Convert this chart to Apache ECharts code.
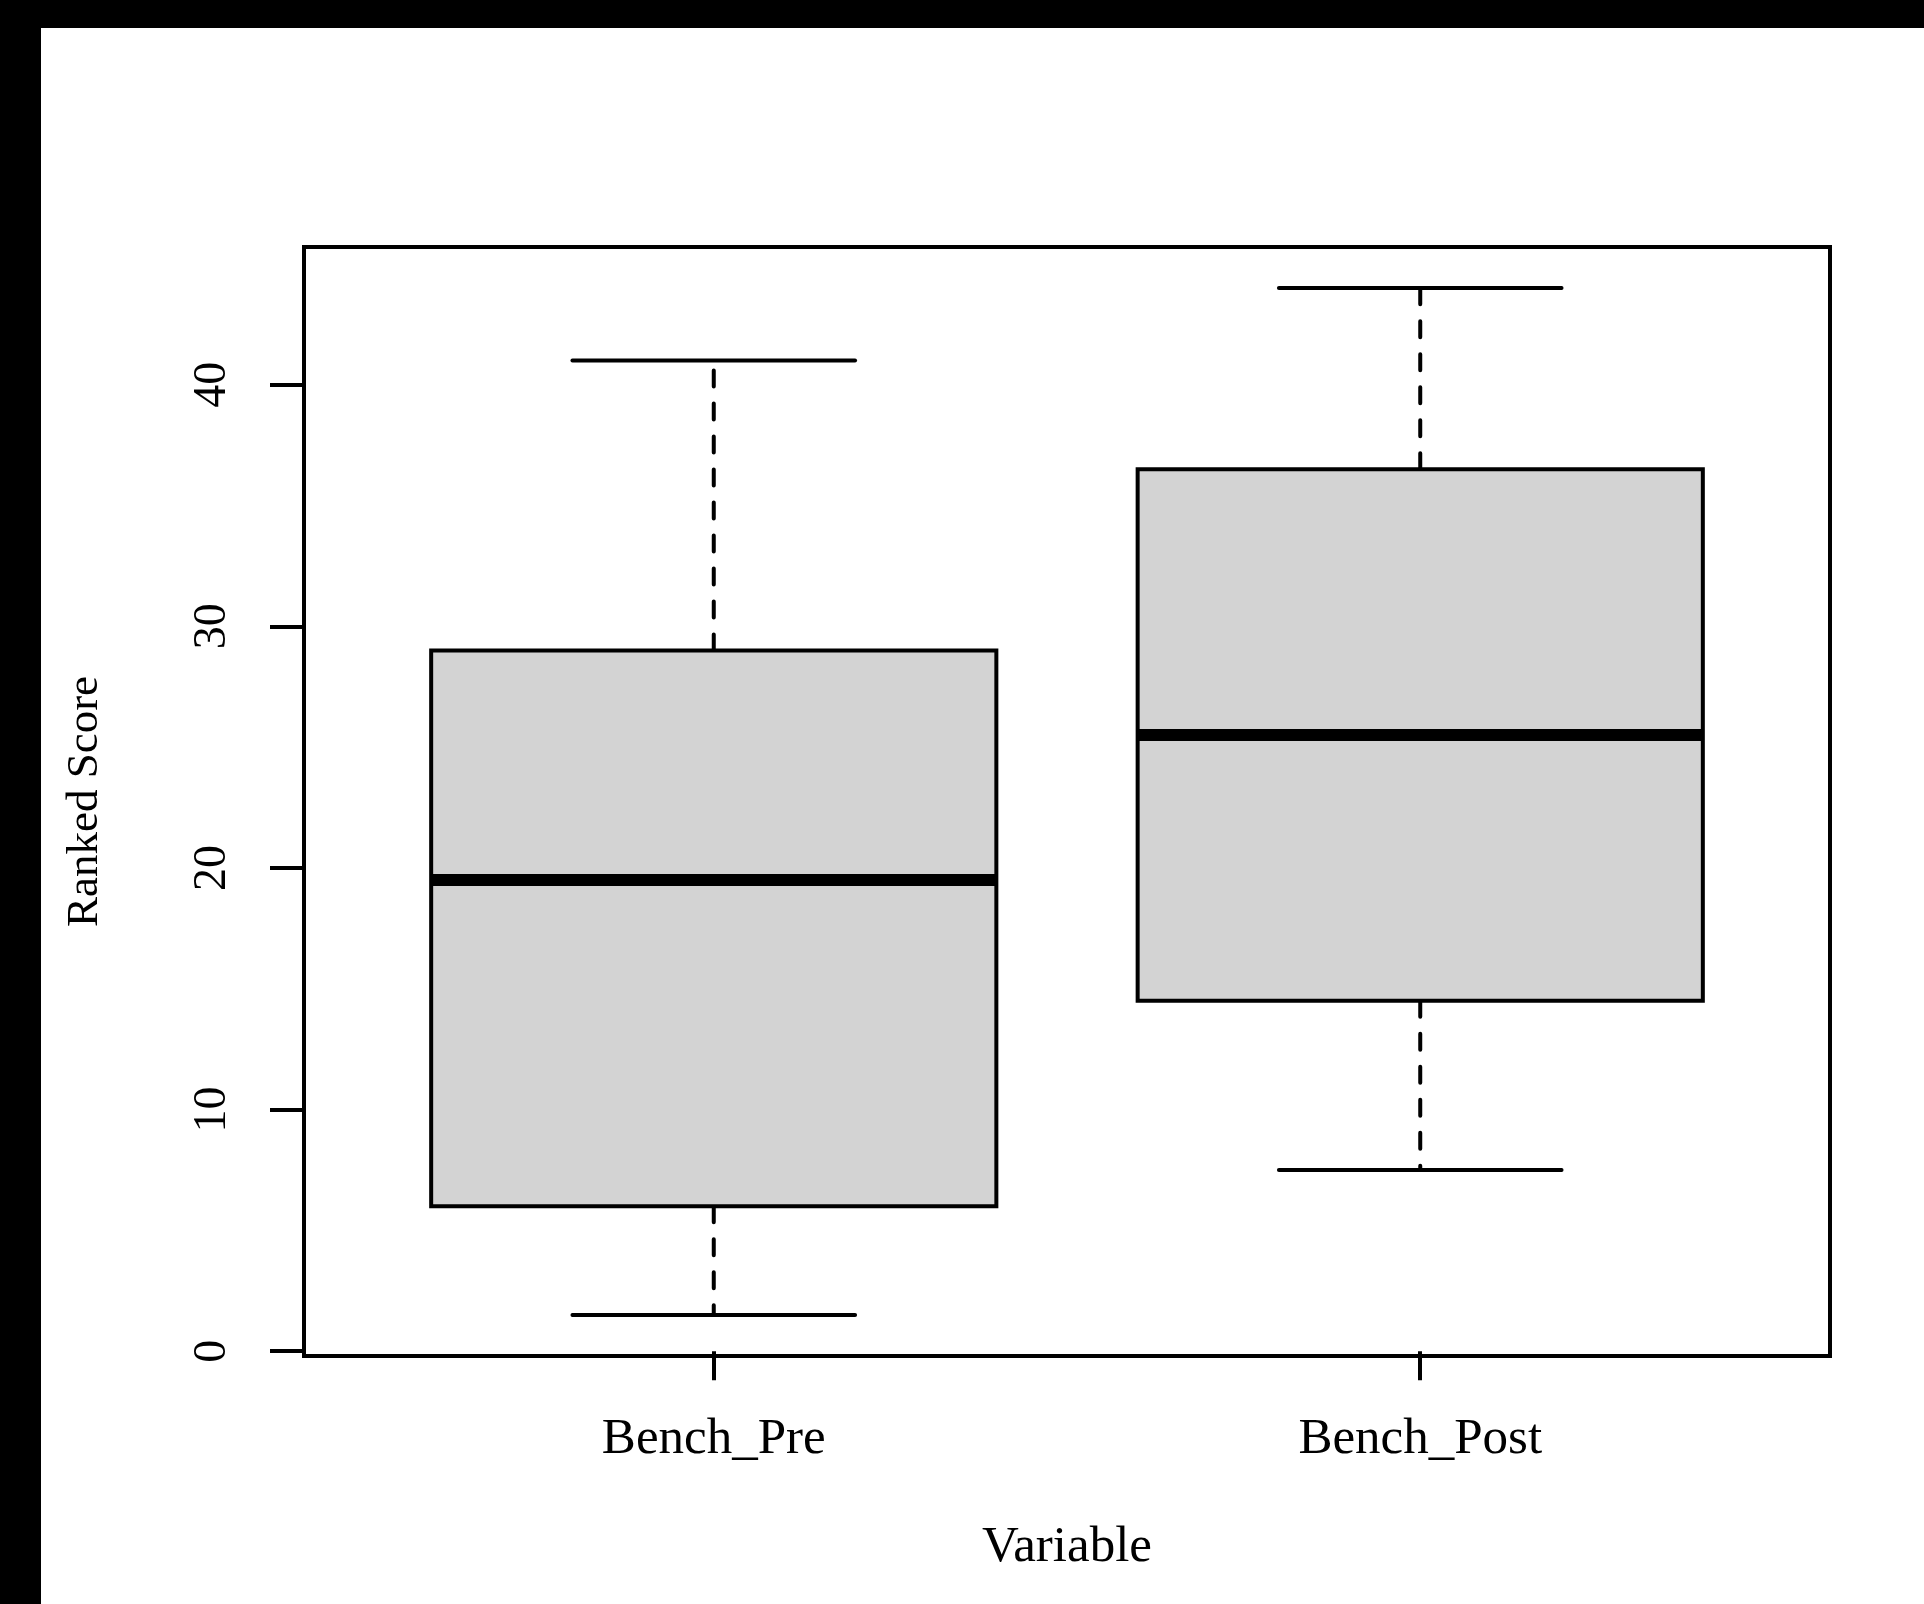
<!DOCTYPE html>
<html>
<head>
<meta charset="utf-8">
<title>Ranked Score by Variable</title>
<script src="https://cdn.jsdelivr.net/npm/echarts@6/dist/echarts.min.js"></script>
<style>
  html, body { margin: 0; padding: 0; background: #ffffff; }
  #chart { width: 1924px; height: 1604px; }
</style>
</head>
<body>
<div id="chart"></div>
<script>
// Five-number summaries per variable
const categories   = ['Bench_Pre', 'Bench_Post'];
const whiskerLow   = [1.5, 7.5];
const lowerHinge   = [6, 14.5];
const medians      = [19.5, 25.5];
const upperHinge   = [29, 36.5];
const whiskerHigh  = [41, 44];
const yTickValues  = [0, 10, 20, 30, 40];

const FONT = "'Liberation Serif', 'Times New Roman', Times, serif";
const BOX_WIDTH = 0.8;     // in x-axis units
const STAPLE_WIDTH = 0.4;  // whisker cap width, x-axis units

const seriesData = categories.map((c, i) => [
  i + 1, whiskerLow[i], lowerHinge[i], medians[i], upperHinge[i], whiskerHigh[i]
]);

const chart = echarts.init(document.getElementById('chart'), null, { renderer: 'canvas' });

chart.setOption({
  backgroundColor: '#ffffff',
  animation: false,
  graphic: [
    { type: 'rect', left: 0, top: 0, shape: { width: 1924, height: 28 }, style: { fill: '#000000' }, z: 100 },
    { type: 'rect', left: 0, top: 0, shape: { width: 41, height: 1604 }, style: { fill: '#000000' }, z: 100 }
  ],
  grid: {
    left: 304, top: 247, width: 1526, height: 1109,
    show: true,
    borderColor: '#000000',
    borderWidth: 4,
    backgroundColor: 'transparent',
    containLabel: false,
    outerBoundsMode: 'none'
  },
  xAxis: {
    type: 'value',
    min: 0.42,
    max: 2.58,
    name: 'Variable',
    nameLocation: 'middle',
    nameGap: 166,
    nameTextStyle: { fontFamily: FONT, fontSize: 51, color: '#000000' },
    axisLine: { show: false },
    splitLine: { show: false },
    axisTick: {
      show: true,
      customValues: [1, 2],
      inside: false,
      length: 29,
      lineStyle: { color: '#000000', width: 4 }
    },
    axisLabel: {
      show: true,
      customValues: [1, 2],
      margin: 58,
      fontFamily: FONT,
      fontSize: 51,
      color: '#000000',
      formatter: v => categories[Math.round(v) - 1] || ''
    }
  },
  yAxis: {
    type: 'value',
    min: -0.2,
    max: 45.7,
    name: 'Ranked Score',
    nameLocation: 'middle',
    nameRotate: 90,
    nameGap: 196,
    nameTextStyle: { fontFamily: FONT, fontSize: 45, color: '#000000' },
    axisLine: { show: false },
    splitLine: { show: false },
    axisTick: {
      show: true,
      customValues: yTickValues,
      inside: false,
      length: 34,
      lineStyle: { color: '#000000', width: 4 }
    },
    axisLabel: {
      show: true,
      customValues: yTickValues,
      rotate: 90,
      margin: 68,
      fontFamily: FONT,
      fontSize: 46,
      color: '#000000'
    }
  },
  series: [{
    type: 'custom',
    data: seriesData,
    encode: { x: 0, y: [1, 2, 3, 4, 5] },
    clip: false,
    renderItem: function (params, api) {
      const xv = api.value(0);
      const lo = api.coord([xv, api.value(1)]);
      const h1 = api.coord([xv, api.value(2)]);
      const md = api.coord([xv, api.value(3)]);
      const h3 = api.coord([xv, api.value(4)]);
      const hi = api.coord([xv, api.value(5)]);
      const cx = lo[0];
      const half = api.size([BOX_WIDTH / 2, 0])[0];
      const capHalf = api.size([STAPLE_WIDTH / 2, 0])[0];

      const whiskerStyle = { stroke: '#000000', lineWidth: 4, lineDash: [16, 17], lineCap: 'round' };
      const capStyle = { stroke: '#000000', lineWidth: 4, lineCap: 'round' };

      return {
        type: 'group',
        children: [
          // upper whisker, from hinge outward
          { type: 'line', shape: { x1: cx, y1: h3[1], x2: cx, y2: hi[1] }, style: whiskerStyle },
          // lower whisker
          { type: 'line', shape: { x1: cx, y1: h1[1], x2: cx, y2: lo[1] }, style: whiskerStyle },
          // staples
          { type: 'line', shape: { x1: cx - capHalf, y1: hi[1], x2: cx + capHalf, y2: hi[1] }, style: capStyle },
          { type: 'line', shape: { x1: cx - capHalf, y1: lo[1], x2: cx + capHalf, y2: lo[1] }, style: capStyle },
          // box between hinges
          {
            type: 'rect',
            shape: { x: cx - half, y: h3[1], width: half * 2, height: h1[1] - h3[1] },
            style: { fill: '#d3d3d3', stroke: '#000000', lineWidth: 4 }
          },
          // median
          {
            type: 'line',
            shape: { x1: cx - half, y1: md[1], x2: cx + half, y2: md[1] },
            style: { stroke: '#000000', lineWidth: 12, lineCap: 'butt' }
          }
        ]
      };
    }
  }]
});
</script>
</body>
</html>
